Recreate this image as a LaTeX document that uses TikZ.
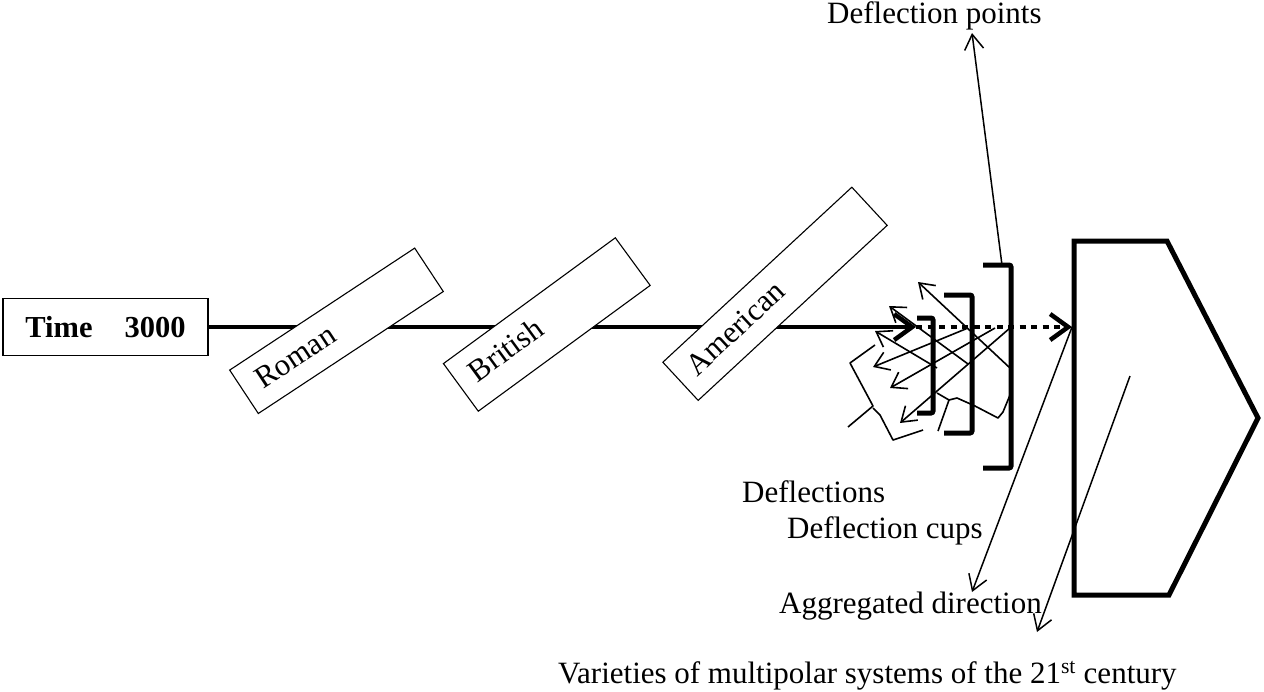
\documentclass[tikz,border=0pt]{standalone}
\usepackage{fontspec}
\setmainfont{Liberation Serif}
\usetikzlibrary{arrows.meta,positioning}

\begin{document}
\begin{tikzpicture}[
    x=1pt, y=-1pt,
    txt/.style={font=\fontsize{31}{37}\selectfont, inner sep=0pt},
    timebox/.style={draw, line width=1.3pt, minimum width=205pt, minimum height=57pt, inner sep=0pt, font=\fontsize{30.5}{37}\selectfont\bfseries},
    era/.style={draw, fill=white, line width=1.1pt, inner sep=0pt, align=left, text depth=2pt, font=\fontsize{31}{37}\selectfont},
    cup/.style={line width=5pt, rounded corners=2pt},
    thickarr/.style={line width=4.5pt, -{Straight Barb[length=18pt,width=26pt]}},
    dotarr/.style={thickarr, dash pattern=on 6pt off 5.5pt},
    defl/.style={line width=1.6pt, -{Straight Barb[length=14pt,width=19pt]}},
    lead/.style={line width=1.5pt, -{Straight Barb[length=15pt,width=19pt]}},
    squig/.style={line width=1.6pt, line join=round}
  ]
  \useasboundingbox (0,0) rectangle (1264,691);

  % time line
  \node[timebox] (time) at (105.5,327) {Time\hspace{1.05em}3000};
  \coordinate (meet) at (916,327);
  \coordinate (futureW) at (1072,327);
  \draw[thickarr] (time.east) -- (meet);
  \draw[dotarr] (meet) -- (futureW);

  % eras
  \node[era, rotate=33.4, minimum width=221.6pt, minimum height=52pt, text width=186.8pt, text height=20pt] (roman) at (336.5,330.8) {Roman};
  \node[era, rotate=36.2, minimum width=213pt, minimum height=59pt, text width=180.2pt, text height=15.2pt] (british) at (546.8,324.5) {British};
  \node[era, rotate=42.8, minimum width=257.6pt, minimum height=52pt, text width=227.6pt, text height=18.2pt] (american) at (775,293.8) {American};

  % deflection cups
  \draw[cup] (917,318) -- (933,318) -- (933,413) -- (917,413);
  \draw[cup] (944,295) -- (972,295) -- (972,433) -- (944,433);
  \draw[cup] (983,265) -- (1011,265) -- (1011,468) -- (983,468);
  \coordinate (cuptop) at (1002,265);

  % deflections
  \foreach \xa/\ya/\xb/\yb in {1010/368/918/282, 968/364/889/306, 937/368/875/331,
      968/328/873/367, 995/328/890/388, 1010/328/900/423}
    \draw[defl] (\xa,\ya) -- (\xb,\yb);
  \draw[squig] (875,345) -- (850,363) -- (873,406) -- (848,427);
  \draw[squig] (873,408) -- (880,415) -- (893,440) -- (923,430);
  \draw[squig] (938,431) -- (949,400) -- (937,393);
  \draw[squig] (949,400) -- (957,398) -- (975,406) -- (998,418) -- (1003,412) -- (1010,395);

  % multipolar systems
  \draw[line width=5pt] (1074,241) -- (1167,241) -- (1258,418) -- (1169,595) -- (1074,595) -- cycle;
  \coordinate (inside) at (1130,376);

  % labels
  \node[txt, anchor=base west] (dp) at (827,23) {Deflection points};
  \node[txt, anchor=base west] (dfl) at (742,502) {Deflections};
  \node[txt, anchor=base west] (dcups) at (787,538) {Deflection cups};
  \node[txt, anchor=base west] (agg) at (779,613) {Aggregated direction};
  \node[txt, anchor=base west] (var) at (558,683) {Varieties of multipolar systems of the 21\textsuperscript{st} century};
  \coordinate (dptip) at (972,33);
  \coordinate (aggtip) at (972,592);
  \coordinate (vartip) at (1037,632);

  \draw[lead] (cuptop) -- (dptip);
  \draw[lead] (futureW) -- (aggtip);
  \draw[lead] (inside) -- (vartip);
\end{tikzpicture}
\end{document}
